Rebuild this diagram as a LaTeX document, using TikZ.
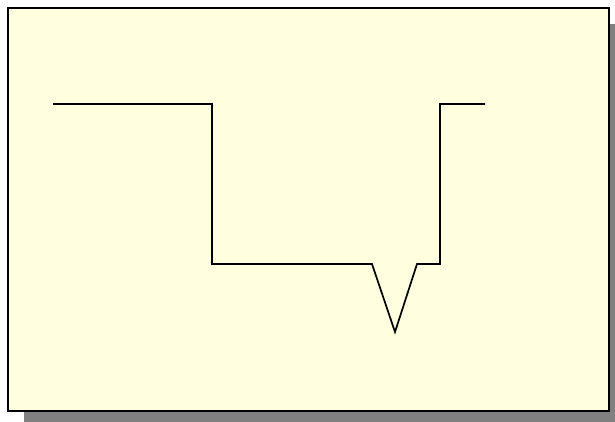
\documentclass[tikz,border=0pt]{standalone}
\begin{document}
\begin{tikzpicture}[x=1pt,y=-1pt,
  frame/.style={draw=black,line width=2pt,fill=boxfill},
  shadowbox/.style={fill=shadowgray,draw=none},
  wire/.style={draw=black,line width=1.7pt,line join=miter}]
\definecolor{boxfill}{RGB}{255,255,224}
\definecolor{shadowgray}{RGB}{128,128,128}
\useasboundingbox (0,0) rectangle (615,421);
\begin{scope}
\clip (0,0) rectangle (615,421);
\fill[shadowgray] (24,24) rectangle (625,431);
\end{scope}
\path[frame] (8,8) rectangle (609,411);
\coordinate (p1) at (53,104);
\coordinate (p2) at (212,104);
\coordinate (p3) at (212,264);
\coordinate (p4) at (372,264);
\coordinate (p5) at (395,332);
\coordinate (p6) at (417,264);
\coordinate (p7) at (440,264);
\coordinate (p8) at (440,104);
\coordinate (p9) at (485,104);
\draw[wire] (p1) -- (p2) -- (p3) -- (p4) -- (p5) -- (p6) -- (p7) -- (p8) -- (p9);
\end{tikzpicture}
\end{document}
